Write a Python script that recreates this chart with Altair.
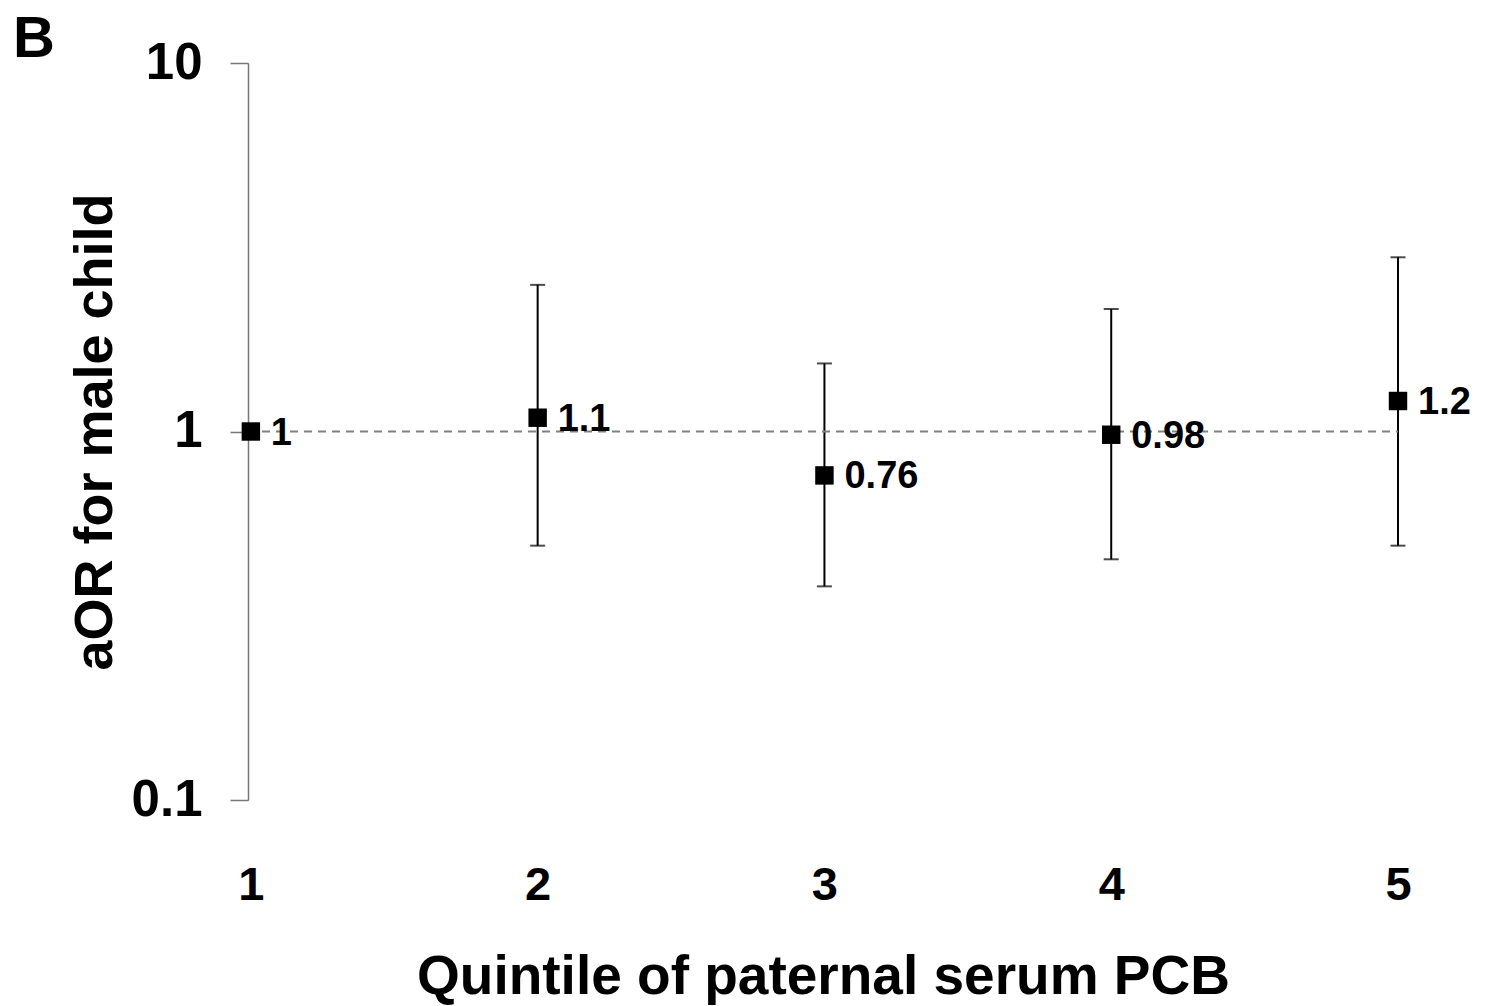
import altair as alt
import pandas as pd

quintile = [1, 2, 3, 4, 5]
aor = [1.0, 1.09, 0.76, 0.98, 1.21]
aor_label = ["1", "1.1", "0.76", "0.98", "1.2"]
ci_lower = [None, 0.49, 0.38, 0.45, 0.49]
ci_upper = [None, 2.50, 1.53, 2.15, 2.97]
y_ticks = [0.1, 1, 10]
x_ticks = [1, 2, 3, 4, 5]
ref_x = [0.99]
ref_x2 = [5]
ref_y = [1]

df = pd.DataFrame({"q": quintile, "aor": aor, "lab": aor_label,
                   "lo": ci_lower, "hi": ci_upper})
ref = pd.DataFrame({"x": ref_x, "x2": ref_x2, "y": ref_y})

FONT = "Liberation Sans"

xscale = alt.Scale(domain=[0.99, 5], nice=False, zero=False)
yscale = alt.Scale(type="log", domain=[0.1, 10], nice=False)

xaxis = alt.Axis(values=x_ticks, format="d", domain=False, ticks=False,
                 tickSize=0, grid=False, labelFontSize=47, labelFont=FONT,
                 labelFontWeight="bold", labelColor="black", labelPadding=62,
                 labelFlush=False, labelBound=False,
                 title="Quintile of paternal serum PCB", titleFont=FONT,
                 titleFontSize=55, titleFontWeight="bold", titleColor="black",
                 titleBaseline="alphabetic", titleY=193)
yaxis = alt.Axis(values=y_ticks, format="~g", grid=False, domainColor="#777777",
                 domainWidth=1.5, tickColor="#777777", tickWidth=1.5, tickSize=18,
                 labelFontSize=51, labelFont=FONT, labelFontWeight="bold",
                 labelColor="black", labelPadding=28, labelFlush=False,
                 title="aOR for male child", titleFont=FONT, titleFontSize=54,
                 titleFontWeight="bold", titleColor="black",
                 titleBaseline="alphabetic", titleX=-137)

base = alt.Chart(df)

bars = base.transform_filter("isValid(datum.lo)").mark_rule(color="black", strokeWidth=2).encode(
    x=alt.X("q:Q", scale=xscale, axis=xaxis),
    y=alt.Y("lo:Q", scale=yscale, axis=yaxis),
    y2="hi:Q",
)

refline = alt.Chart(ref).mark_rule(color="#808080", strokeWidth=2, strokeDash=[8, 6]).encode(
    x=alt.X("x:Q", scale=xscale),
    x2="x2:Q",
    y=alt.Y("y:Q", scale=yscale),
)

caps_lo = base.transform_filter("isValid(datum.lo)").mark_tick(
    color="black", orient="horizontal", size=15, thickness=2).encode(
    x=alt.X("q:Q", scale=xscale), y=alt.Y("lo:Q", scale=yscale))
caps_hi = base.transform_filter("isValid(datum.hi)").mark_tick(
    color="black", orient="horizontal", size=15, thickness=2).encode(
    x=alt.X("q:Q", scale=xscale), y=alt.Y("hi:Q", scale=yscale))

points = base.mark_square(size=340, color="black", opacity=1).encode(
    x=alt.X("q:Q", scale=xscale), y=alt.Y("aor:Q", scale=yscale))

labels = base.mark_text(align="left", baseline="middle", dx=20, dy=2, font=FONT,
                        fontSize=38, fontWeight="bold", color="black").encode(
    x=alt.X("q:Q", scale=xscale), y=alt.Y("aor:Q", scale=yscale), text="lab:N")

chart = alt.layer(bars, refline, caps_lo, caps_hi, points, labels).properties(
    width=1150, height=737,
    autosize=alt.AutoSizeParams(type="none"),
    padding={"left": 240, "top": 55, "right": 86, "bottom": 205},
    title=alt.TitleParams(text="B", anchor="start", frame="group", font=FONT,
                          fontSize=58, fontWeight="bold", color="black",
                          dx=-235, dy=78, offset=0, baseline="alphabetic"),
).configure_view(stroke=None).configure_axis(grid=False)

chart.save("out.html", embed_options={"renderer": "svg", "actions": False})
